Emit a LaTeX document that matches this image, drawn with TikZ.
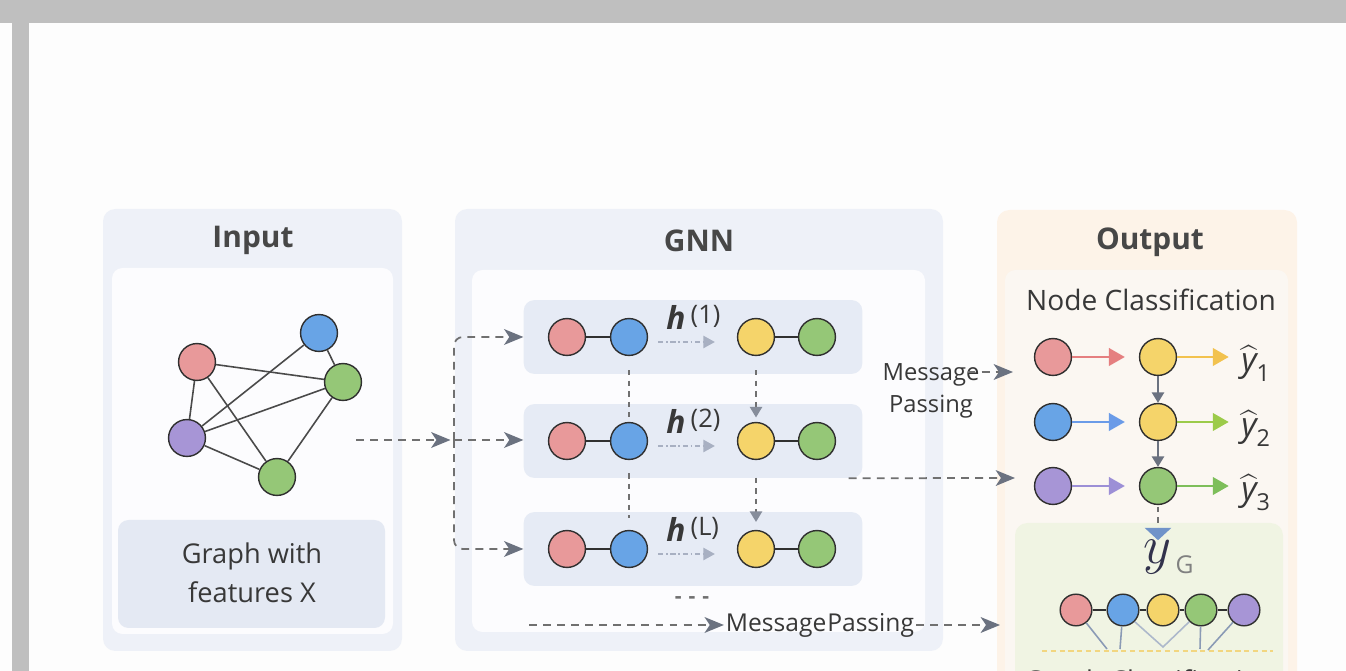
\documentclass[tikz,border=0pt]{standalone}
\usepackage{fix-cm}
\usepackage{amsmath}
\usepackage{fontspec}
\setmainfont{Open Sans}
\usetikzlibrary{arrows.meta,positioning,calc}

\definecolor{framegray}{HTML}{BFBFBF}
\definecolor{paper}{HTML}{FDFDFD}
\definecolor{panelblue}{HTML}{EEF1F8}
\definecolor{innerwhite}{HTML}{FCFCFE}
\definecolor{layerfill}{HTML}{E6EBF5}
\definecolor{labelfill}{HTML}{E4E9F3}
\definecolor{panelpeach}{HTML}{FDF3E8}
\definecolor{innerpeach}{HTML}{FBF7F2}
\definecolor{panelgreen}{HTML}{F0F4E3}
\definecolor{ink}{HTML}{383838}
\definecolor{titleink}{HTML}{474747}
\definecolor{nodeline}{HTML}{303030}
\definecolor{edgegray}{HTML}{4A4A4A}
\definecolor{dashgray}{HTML}{707070}
\definecolor{tipgray}{HTML}{6B7280}
\definecolor{softgray}{HTML}{A8B0C2}
\definecolor{nred}{HTML}{E8999A}
\definecolor{nblue}{HTML}{68A4E6}
\definecolor{nyellow}{HTML}{F5D46A}
\definecolor{ngreen}{HTML}{95C777}
\definecolor{npurple}{HTML}{A795D6}
\definecolor{ared}{HTML}{E57F80}
\definecolor{ayellow}{HTML}{F2C24E}
\definecolor{ablue}{HTML}{6A9BE8}
\definecolor{alime}{HTML}{9CCB4A}
\definecolor{apurple}{HTML}{9C8FD6}
\definecolor{agreen}{HTML}{7DBE5A}
\definecolor{readgray}{HTML}{8A9AB5}
\definecolor{goldline}{HTML}{F2D680}

\tikzset{
  vertex/.style={circle, draw=nodeline, line width=0.8pt, minimum size=21pt, inner sep=0pt},
  mini vertex/.style={vertex, minimum size=18pt},
  panel title/.style={font=\fontsize{17}{20}\selectfont\bfseries, text=titleink},
  caption/.style={font=\fontsize{15.5}{22}\selectfont, text=ink, align=center},
  msg/.style={font=\fontsize{13.5}{18}\selectfont, text=ink, align=center, inner sep=1pt},
  hlab/.style={font=\fontsize{18}{20}\selectfont, text=ink, inner sep=0pt},
  layer box/.style={rectangle, rounded corners=6pt, fill=layerfill, minimum width=192.7pt, minimum height=42pt, inner sep=0pt},
  wire/.style={draw=edgegray, line width=0.9pt},
  bond/.style={draw=nodeline, line width=0.7pt},
  dashflow/.style={draw=dashgray, line width=1pt, dash pattern=on 4.5pt off 3.5pt,
    -{Stealth[length=11pt, width=9pt, inset=3pt, color=tipgray]}},
  hflow/.style={draw=softgray, line width=0.7pt, dash pattern=on 3pt off 1.5pt on 1pt off 1.5pt,
    -{Triangle[length=6.5pt, width=7pt, color=softgray]}},
  vdash/.style={draw=dashgray, line width=0.9pt, dash pattern=on 3pt off 3pt},
  vtip/.style={-{Triangle[length=6pt, width=7pt, color=softgray!80!black]}},
  colarrow/.style={line width=1.1pt, -{Triangle[length=9pt, width=10pt]}},
  downarrow/.style={draw=tipgray, line width=1.1pt, -{Triangle[length=6pt, width=7pt]}},
  readout/.style={draw=readgray, line width=0.9pt},
}

\begin{document}
\begin{tikzpicture}[x=0.02cm, y=-0.02cm]
  \useasboundingbox (0,0) rectangle (1346,671);
  \clip (0,0) rectangle (1346,671);

  % Page and frame
  \fill[paper] (0,0) rectangle (1346,671);
  \fill[framegray] (0,0) rectangle (1346,23);
  \fill[framegray] (12,23) rectangle (29,671);

  % Input
  \fill[panelblue, rounded corners=7pt] (103,209) rectangle (402,651);
  \fill[innerwhite, rounded corners=6pt] (112,268) rectangle (393,634);
  \fill[labelfill, rounded corners=6pt] (118,520) rectangle (385,628);
  \node[panel title] (intitle) at (253,240) {Input};
  \node[caption] (incap) at (252,573) {Graph with\\features X};

  \node[vertex, fill=nred]    (v1) at (197,362) {};
  \node[vertex, fill=nblue]   (v2) at (319,333) {};
  \node[vertex, fill=ngreen]  (v3) at (343,382) {};
  \node[vertex, fill=npurple] (v4) at (187,438) {};
  \node[vertex, fill=ngreen]  (v5) at (277,477) {};
  \foreach \a/\b in {v1/v3, v1/v4, v1/v5, v2/v3, v2/v4, v4/v3, v4/v5, v5/v3}
    \draw[wire] (\a) -- (\b);

  % GNN
  \fill[panelblue, rounded corners=7pt] (455,209) rectangle (943,651);
  \fill[innerwhite, rounded corners=6pt] (472,270) rectangle (925,632);
  \node[panel title] (gnntitle) at (699,241) {GNN};

  \foreach \n/\y/\k in {1/337/1, 2/441/2, 3/549/L} {
    \node[layer box] (L\n) at (693,\y) {};
    \node[vertex, fill=nred]    (r\n)  at (567,\y) {};
    \node[vertex, fill=nblue]   (b\n)  at (629,\y) {};
    \node[vertex, fill=nyellow] (ye\n) at (756,\y) {};
    \node[vertex, fill=ngreen]  (gr\n) at (817,\y) {};
    \draw[bond] (r\n) -- (b\n);
    \draw[bond] (ye\n) -- (gr\n);
    \node[hlab, anchor=base west] (h\n) at (666,\y-7)
      {\textbf{\textit{h}}\,\raisebox{3.5pt}{\fontsize{14.5}{16}\selectfont(\k)}};
    \draw[hflow] ($(b\n.east)+(10,5)$) -- ($(ye\n.west)+(-22,5)$);
  }

  % between layers
  \draw[vdash, shorten <=8pt, shorten >=3pt] (b1) -- (b2);
  \draw[vdash, vtip, shorten <=8pt, shorten >=2.5pt] (ye1) -- (ye2);
  \draw[vdash, shorten <=7.5pt, shorten >=7pt] (b2) -- (b3);
  \draw[vdash, vtip, shorten <=10pt, shorten >=4.5pt] (ye2) -- (ye3);
  \node[font=\fontsize{12}{14}\selectfont\bfseries, text=dashgray] (more) at (692,600) {-\,\,-\,\,-};

  % input -> layers
  \coordinate (inR) at (356,440);
  \coordinate (split) at (454,440);
  \draw[dashflow, shorten >=2pt] (inR) -- (split);
  \draw[dashflow, rounded corners=5pt] (split) |- (L1.west);
  \draw[dashflow] (split) -- (split -| L2.west);
  \draw[dashflow, rounded corners=5pt] (split) |- (L3.west);

  % Output
  \fill[panelpeach, rounded corners=7pt] (997,210) rectangle (1297,700);
  \fill[innerpeach, rounded corners=6pt] (1005,270) rectangle (1288,700);
  \node[panel title] (outtitle) at (1150,242) {Output};
  \node[caption, font=\fontsize{16}{22}\selectfont] (nctitle) at (1151,300) {Node Classification};

  \foreach \n/\y/\ca/\cb/\cc/\cd in {1/357/nred/nyellow/ared/ayellow,
                                     2/422/nblue/nyellow/ablue/alime,
                                     3/486/npurple/ngreen/apurple/agreen} {
    \node[vertex, fill=\ca] (a\n) at (1053,\y) {};
    \node[vertex, fill=\cb] (c\n) at (1158,\y) {};
    \node[font=\fontsize{19}{22}\selectfont, text=ink, anchor=base west, inner sep=0pt] (p\n)
      at (1241,\y+15) {$\widehat{\textit{y}}_{\text{\n}}$};
    \draw[colarrow, draw=\cc, shorten >=8pt] (a\n) -- (c\n);
    \draw[colarrow, draw=\cd, shorten >=7pt] (c\n) -- (c\n -| p\n.west);
  }
  \draw[downarrow] (c1) -- (c2);
  \draw[downarrow] (c2) -- (c3);

  % message passing into the output
  \node[msg] (mp) at (931,391) {Message\\Passing};
  \coordinate (to1) at (1013,372);
  \draw[dashflow] ($(mp.east |- to1)+(-14,0)$) -- (to1);
  \coordinate (to3) at (1015,478);
  \draw[dashflow] ($(L2.south east)+(-14,0)$) -- (to3);

  \node[msg, font=\fontsize{14}{16}\selectfont] (mpb) at (820,625) {Message\kern0.5pt Passing};
  \coordinate (bstart) at (529,625);
  \coordinate (to4) at (1000,625);
  \draw[dashflow] (bstart) -- (mpb.west);
  \draw[dashflow] (mpb.east) -- (to4);

  % Graph classification
  \fill[panelgreen, rounded corners=7pt] (1015,523) rectangle (1283,700);
  \node[font=\fontsize{31}{33}\selectfont, text=ink!90!blue, anchor=base, inner sep=0pt] (yG) at (1157,564) {$y$};
  \node[font=\fontsize{14}{16}\selectfont, text=gray, anchor=base west, inner sep=0pt] (yGs)
    at ($(yG.base east)+(4,10)$) {G};
  \draw[vdash, shorten <=1pt, -{Triangle[length=7pt, width=15pt, color=ablue!70!gray]}] (c3) -- (c3 |- yG.north);

  \foreach \n/\x/\c in {1/1076/nred, 2/1123/nblue, 3/1163/nyellow, 4/1201/ngreen, 5/1244/npurple}
    \node[mini vertex, fill=\c] (d\n) at (\x,610) {};
  \foreach \a/\b in {d1/d2, d2/d3, d3/d4, d4/d5}
    \draw[bond] (\a) -- (\b);

  \coordinate (t1) at (1107,649);
  \coordinate (t2) at (1120,649);
  \coordinate (t3) at (1163,647);
  \coordinate (t4) at (1200,649);
  \coordinate (t5) at (1208,650);
  \draw[readout] (d1) -- (t1);
  \draw[readout] (d2) -- (t2);
  \draw[readout, draw=readgray!70] (d2.south east) -- (t3) -- (d4.south west);
  \draw[readout] (d4) -- (t4);
  \draw[readout] (d5) -- (t5);
  \draw[goldline, line width=0.7pt, dash pattern=on 3pt off 2pt] (1042,651) -- (1273,651);

  \node[caption] (gctitle) at (1150,683) {Graph Classification};
\end{tikzpicture}
\end{document}
